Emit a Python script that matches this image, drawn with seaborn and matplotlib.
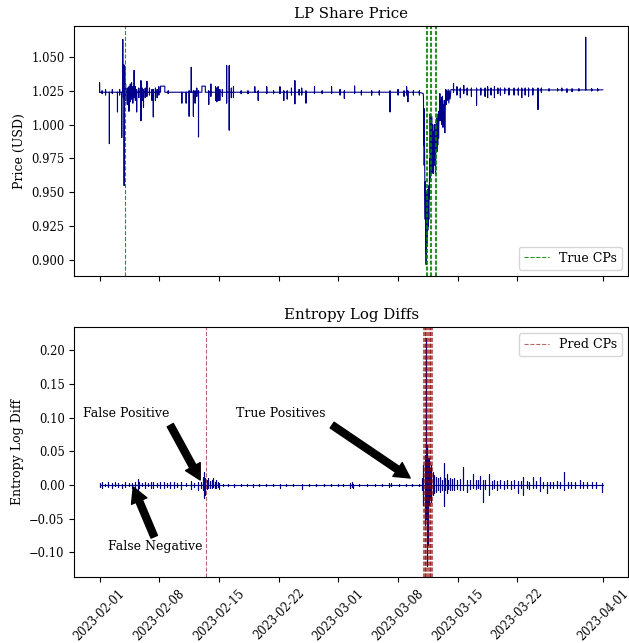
import numpy as np
import pandas as pd
import matplotlib
matplotlib.use("Agg")
import matplotlib.pyplot as plt
import matplotlib.dates as mdates
import seaborn as sns

plt.rcParams['font.family'] = ['DejaVu Serif']

START = pd.Timestamp('2023-02-01')
END_DAY = 59.0

# ---------------- LP share price (days since 2023-02-01) ----------------
price_base_pre = 1.0240
price_base_post = 1.0257
price_end = 1.0258

price_evt_day = [0.0, 0.3, 0.7, 1.15, 1.5, 2.1, 2.35, 2.6, 2.72, 2.8, 2.88, 2.95, 3.05, 3.25,
                 3.45, 3.6, 3.75, 3.9, 4.05, 4.2, 4.35, 4.6, 4.85, 5.0, 5.15, 5.35, 5.55, 5.85,
                 6.15, 6.3, 6.55, 6.75, 6.95, 8.05, 9.65, 10.15, 10.5, 10.75, 11.0, 11.2, 11.4,
                 11.6, 12.8, 13.05, 13.6, 13.75, 13.9, 14.1, 14.4, 14.9, 15.2, 15.45, 15.7,
                 16.6, 17.4, 18.2, 18.6, 19.6, 20.4, 21.15, 21.6, 22.0, 22.5, 22.9, 23.4, 23.7,
                 24.2, 25.2, 26.1, 27.2, 28.2, 28.7, 29.9, 30.7, 31.9, 32.8, 34.05, 35.0, 35.7,
                 36.0, 36.15, 36.8, 37.5,
                 41.5, 41.9, 42.3, 42.7, 43.1, 43.6, 44.2, 44.7, 45.2, 45.5, 45.9, 46.3, 46.7,
                 47.0, 47.5, 48.0, 48.6, 49.1, 49.5, 49.9, 50.3, 50.8, 51.4, 51.8, 52.7, 53.7,
                 54.2, 54.8, 55.4, 56.2, 57.0, 57.7, 58.4]
price_evt_hi = [1.031, 1.025, 1.026, 1.024, 1.026, 1.024, 1.026, 1.024, 1.063, 1.044, 1.044, 1.043, 1.030, 1.027,
                1.028, 1.030, 1.031, 1.028, 1.040, 1.028, 1.026, 1.027, 1.0325, 1.027, 1.026, 1.027, 1.032, 1.027,
                1.026, 1.026, 1.027, 1.026, 1.028, 1.025, 1.024, 1.024, 1.025, 1.0424, 1.025, 1.025, 1.027,
                1.025, 1.025, 1.030, 1.028, 1.027, 1.028, 1.026, 1.026, 1.0436, 1.0436, 1.027, 1.028,
                1.025, 1.025, 1.028, 1.025, 1.028, 1.025, 1.028, 1.025, 1.025, 1.027, 1.0325, 1.026, 1.027,
                1.025, 1.028, 1.025, 1.028, 1.026, 1.025, 1.0285, 1.025, 1.025, 1.025, 1.025, 1.026, 1.025,
                1.028, 1.025, 1.025, 1.025,
                1.0305, 1.028, 1.027, 1.029, 1.027, 1.027, 1.027, 1.027, 1.027, 1.028, 1.027, 1.028, 1.027,
                1.027, 1.027, 1.027, 1.027, 1.027, 1.027, 1.027, 1.027, 1.027, 1.027, 1.027, 1.0265, 1.0265,
                1.027, 1.0265, 1.0265, 1.0265, 1.0646, 1.0265, 1.0265]
price_evt_lo = [1.024, 1.023, 1.022, 0.986, 1.023, 1.0095, 1.022, 0.9906, 1.024, 1.020, 0.955, 1.022, 1.018, 1.015,
                1.010, 1.017, 1.019, 1.016, 1.020, 1.018, 1.0095, 1.020, 1.003, 1.018, 1.013, 1.020, 1.021, 1.022,
                1.018, 1.0058, 1.018, 1.020, 1.022, 1.023, 1.016, 1.016, 1.0063, 1.024, 1.0063, 1.016, 1.021,
                0.991, 1.015, 1.021, 1.018, 1.017, 1.018, 1.018, 1.021, 1.016, 0.996, 1.020, 1.020,
                1.023, 1.023, 1.024, 1.018, 1.023, 1.023, 1.023, 1.018, 1.019, 1.022, 1.0155, 1.022, 1.022,
                1.016, 1.023, 1.023, 1.023, 1.022, 1.0194, 1.023, 1.022, 1.0219, 1.022, 1.0095, 1.022, 1.021,
                1.022, 1.017, 1.022, 1.022,
                1.024, 1.022, 1.020, 1.023, 1.022, 1.021, 1.0145, 1.022, 1.021, 1.020, 1.022, 1.020, 1.023,
                1.0219, 1.023, 1.022, 1.022, 1.022, 1.020, 1.022, 1.021, 1.022, 1.0113, 1.024, 1.025, 1.025,
                1.025, 1.024, 1.0245, 1.025, 1.0257, 1.025, 1.025]

price_plateau_day = [7.15, 12.0]
price_plateau_len = [0.5, 0.4]
price_plateau_val = [1.0285, 1.0285]

depeg_day = [37.95, 37.98, 38.0, 38.03, 38.06, 38.09, 38.12, 38.15, 38.18, 38.2, 38.23, 38.26, 38.29,
             38.31, 38.33, 38.35, 38.37, 38.39, 38.42, 38.45, 38.48, 38.51, 38.54, 38.57, 38.6, 38.63,
             38.66, 38.7, 38.73, 38.76, 38.79, 38.82, 38.85, 38.88, 38.91, 38.94, 38.97, 39.0, 39.03,
             39.06, 39.09, 39.12, 39.15, 39.19, 39.23, 39.27, 39.31, 39.35, 39.39, 39.43, 39.47, 39.51,
             39.55, 39.6, 39.65, 39.7, 39.75, 39.8, 39.85, 39.9, 39.95, 40.0, 40.05, 40.1, 40.15, 40.2,
             40.26, 40.32, 40.37, 40.42, 40.48, 40.53, 40.6, 40.66, 40.72, 40.8, 40.88, 40.95, 41.02,
             41.1, 41.2]
depeg_val = [1.023, 1.020, 0.985, 1.012, 0.970, 0.990, 0.969, 0.955, 0.930, 0.958, 0.915, 0.945, 0.8965,
             0.935, 0.905, 0.950, 0.910, 0.940, 0.918, 0.952, 0.922, 0.944, 0.925, 0.944, 0.930, 0.955,
             0.945, 0.975, 0.960, 1.008, 0.979, 1.000, 0.968, 0.995, 0.970, 1.006, 0.964, 0.990, 0.968,
             1.000, 0.965, 0.985, 0.964, 0.995, 0.970, 1.000, 0.975, 1.000, 0.964, 0.990, 0.980, 1.005,
             0.980, 1.003, 0.985, 1.008, 0.990, 1.010, 1.003, 1.023, 1.003, 1.018, 1.005, 1.020, 1.000, 1.021,
             0.998, 1.015, 1.002, 1.018, 0.994, 1.012, 1.026, 1.015, 1.025, 1.018, 1.026, 1.016, 1.025,
             1.019, 1.026]

# ---------------- Entropy log diffs ----------------
ent_evt_day = [0.1, 0.3, 0.6, 1.0, 1.4, 1.8, 2.2, 2.6, 3.0, 3.4, 3.8, 4.2, 4.45, 4.65, 5.0, 5.3, 5.7,
               6.0, 6.3, 6.7, 7.1, 7.5, 7.9, 8.3, 8.7, 9.1, 9.6, 10.1, 10.7, 11.1, 11.5, 11.9,
               12.15, 12.27, 12.42, 12.55, 12.75, 12.95, 13.15, 13.33, 13.5, 13.65, 13.85, 14.05,
               14.5, 15.1, 15.8, 16.6, 17.3, 18.0, 18.7, 19.5, 20.3, 21.15, 21.9, 22.7, 23.7, 24.6,
               25.4, 26.3, 27.1, 27.9, 28.6, 29.35, 29.55, 29.75, 30.45, 31.35, 32.25, 33.15, 33.95,
               34.15, 35.05, 35.95, 36.65, 37.45,
               37.8, 37.95, 38.1, 38.3, 38.37, 38.45, 38.55, 38.65, 38.75, 38.9, 39.05, 39.2, 39.4,
               39.65, 39.9, 40.1, 40.33, 40.5, 40.72, 40.9, 41.1, 41.3, 41.6, 41.9, 42.3, 42.66,
               43.06, 43.4, 43.76, 44.1, 44.4, 44.62, 44.94, 45.2, 45.71, 46.0, 46.3, 46.6, 47.0,
               47.4, 47.8, 48.2, 48.6, 49.11, 49.4, 49.7, 50.1, 50.4, 50.87, 51.2, 51.65, 52.0,
               52.44, 52.8, 53.2, 53.6, 54.0, 54.5, 54.9, 55.3, 55.7, 56.34, 56.7, 57.2, 57.7,
               58.2, 58.88]
ent_evt_hi = [0.003, 0.005, 0.002, 0.004, 0.003, 0.004, 0.003, 0.002, 0.004, 0.003, 0.003, 0.005, 0.0084, 0.004,
              0.003, 0.004, 0.003, 0.004, 0.005, 0.003, 0.004, 0.005, 0.003, 0.004, 0.005, 0.003, 0.004,
              0.003, 0.006, 0.003, 0.005, 0.004, 0.012, 0.0188, 0.010, 0.008, 0.010, 0.006, 0.008, 0.011,
              0.005, 0.008, 0.004, 0.003, 0.002, 0.002, 0.001, 0.002, 0.001, 0.001, 0.002, 0.001, 0.002,
              0.001, 0.001, 0.002, 0.001, 0.001, 0.002, 0.001, 0.001, 0.002, 0.001, 0.003, 0.004, 0.002,
              0.001, 0.002, 0.001, 0.002, 0.003, 0.003, 0.001, 0.001, 0.001, 0.001,
              0.010, 0.030, 0.044, 0.218, 0.060, 0.040, 0.030, 0.040, 0.025, 0.030, 0.020, 0.015, 0.012,
              0.010, 0.012, 0.008, 0.032, 0.010, 0.017, 0.008, 0.010, 0.009, 0.010, 0.008, 0.009, 0.027,
              0.008, 0.007, 0.017, 0.008, 0.007, 0.013, 0.007, 0.008, 0.017, 0.006, 0.008, 0.006, 0.008,
              0.006, 0.007, 0.006, 0.007, 0.006, 0.006, 0.012, 0.006, 0.005, 0.012, 0.006, 0.012, 0.005,
              0.005, 0.005, 0.004, 0.006, 0.004, 0.020, 0.004, 0.005, 0.004, 0.007, 0.004, 0.005, 0.004,
              0.005, 0.003]
ent_evt_lo = [-0.003, -0.005, -0.002, -0.003, -0.004, -0.002, -0.003, -0.004, -0.003, -0.002, -0.004, -0.003, -0.007, -0.004,
              -0.002, -0.004, -0.002, -0.005, -0.004, -0.003, -0.005, -0.004, -0.003, -0.004, -0.005, -0.003, -0.006,
              -0.002, -0.006, -0.003, -0.007, -0.004, -0.008, -0.0198, -0.015, -0.006, -0.004, -0.005, -0.004, -0.003,
              -0.004, -0.005, -0.003, -0.006, -0.002, -0.002, -0.003, -0.001, -0.002, -0.003, -0.001, -0.002, -0.001,
              -0.004, -0.002, -0.001, -0.006, -0.002, -0.001, -0.002, -0.001, -0.002, -0.002, -0.004, -0.003, -0.004,
              -0.002, -0.001, -0.002, -0.002, -0.003, -0.002, -0.001, -0.002, -0.001, -0.001,
              -0.008, -0.030, -0.060, -0.050, -0.120, -0.090, -0.050, -0.030, -0.020, -0.025, -0.015, -0.012, -0.010,
              -0.008, -0.010, -0.008, -0.032, -0.008, -0.012, -0.006, -0.008, -0.007, -0.008, -0.006, -0.007, -0.007,
              -0.010, -0.006, -0.005, -0.006, -0.005, -0.006, -0.0247, -0.006, -0.015, -0.006, -0.005, -0.007, -0.005,
              -0.006, -0.005, -0.006, -0.005, -0.012, -0.005, -0.015, -0.005, -0.006, -0.005, -0.005, -0.009, -0.005,
              -0.012, -0.004, -0.005, -0.004, -0.004, -0.007, -0.004, -0.004, -0.005, -0.004, -0.004, -0.004, -0.005,
              -0.004, -0.010]

true_cp_day = [2.93, 38.22, 38.36, 38.76, 38.88, 39.33, 39.47]
pred_cp_day = [12.48, 37.9, 38.0, 38.1, 38.2, 38.3, 38.4, 38.5, 38.6, 38.7, 38.8, 38.9, 39.0]


def to_dates(days):
    return START + pd.to_timedelta(np.asarray(days, dtype=float), unit='D')


# ---- build price polyline ----
segments = []
for d, hi, lo in zip(price_evt_day, price_evt_hi, price_evt_lo):
    b = price_base_pre if d < 38 else price_base_post
    segments.append([(d, b), (d, hi), (d, lo), (d, b)])
for d, ln, v in zip(price_plateau_day, price_plateau_len, price_plateau_val):
    segments.append([(d, price_base_pre), (d, v), (d + ln, v), (d + ln, price_base_pre)])
segments.append(list(zip(depeg_day, depeg_val)))
segments.sort(key=lambda s: s[0][0])
pts = [(0.0, price_base_pre)]
for s in segments:
    pts.extend(s)
pts.append((END_DAY, price_end))
price_df = pd.DataFrame(pts, columns=['day', 'price'])
price_df['time'] = to_dates(price_df['day'])

# ---- build entropy polyline ----
pts = [(0.0, 0.0)]
for d, hi, lo in zip(ent_evt_day, ent_evt_hi, ent_evt_lo):
    pts.extend([(d, 0.0), (d, hi), (d, lo), (d, 0.0)])
pts.append((END_DAY, 0.0))
ent_df = pd.DataFrame(pts, columns=['day', 'ent'])
ent_df['time'] = to_dates(ent_df['day'])

fig, (ax1, ax2) = plt.subplots(2, 1, sharex=True, figsize=(6.29, 6.43), dpi=100)
ax1.set_position([0.1183, 0.5708, 0.880, 0.3888])
ax2.set_position([0.1183, 0.1026, 0.880, 0.3888])

sns.lineplot(data=price_df, x='time', y='price', sort=False, estimator=None,
             color='darkblue', linewidth=0.8, ax=ax1)
for i, d in enumerate(to_dates(true_cp_day)):
    ax1.axvline(d, color='green', linestyle='--', linewidth=0.8, alpha=0.85,
                label='True CPs' if i == 0 else None)
ax1.set_title('LP Share Price', fontsize=10.8)
ax1.set_ylabel('Price (USD)', fontsize=9)
ax1.set_xlabel('')
ax1.legend(loc='lower right', fontsize=9)

sns.lineplot(data=ent_df, x='time', y='ent', sort=False, estimator=None,
             color='darkblue', linewidth=0.8, ax=ax2)
for i, d in enumerate(to_dates(pred_cp_day)):
    ax2.axvline(d, color='darkred', linestyle='--', linewidth=0.8, alpha=0.6,
                label='Pred CPs' if i == 0 else None)
ax2.set_title('Entropy Log Diffs', fontsize=10.8)
ax2.set_ylabel('Entropy Log Diff', fontsize=9)
ax2.set_xlabel('')
ax2.legend(loc='upper right', fontsize=9)

ax2.xaxis.set_major_locator(mdates.DayLocator(bymonthday=[1, 8, 15, 22]))
ax2.xaxis.set_major_formatter(mdates.DateFormatter('%Y-%m-%d'))
for ax in (ax1, ax2):
    ax.tick_params(labelsize=8.3)
ax2.tick_params(axis='x', rotation=45)

arrow = dict(facecolor='black', edgecolor='black', width=5, headwidth=12, headlength=11, shrink=0)
d = lambda x: START + pd.Timedelta(days=x)
ax2.text(d(-1.91), 0.1067, 'False Positive', fontsize=9, ha='left', va='center')
ax2.text(d(16.02), 0.1067, 'True Positives', fontsize=9, ha='left', va='center')
ax2.text(d(1.02), -0.092, 'False Negative', fontsize=9, ha='left', va='center')
ax2.annotate('', xy=(d(11.8), 0.0074), xytext=(d(8.29), 0.089), arrowprops=arrow)
ax2.annotate('', xy=(d(36.42), 0.0104), xytext=(d(27.27), 0.089), arrowprops=arrow)
ax2.annotate('', xy=(d(3.95), -0.003), xytext=(d(6.41), -0.077), arrowprops=arrow)

fig.savefig('out.png', dpi=100)
